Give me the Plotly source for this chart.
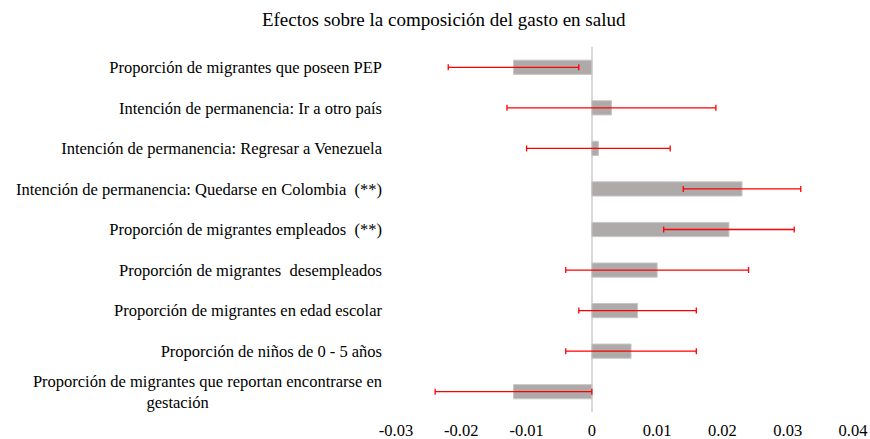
import plotly.graph_objects as go

categories = [
    "Proporción de migrantes que poseen PEP",
    "Intención de permanencia: Ir a otro país",
    "Intención de permanencia: Regresar a Venezuela",
    "Intención de permanencia: Quedarse en Colombia  (**)",
    "Proporción de migrantes empleados  (**)",
    "Proporción de migrantes  desempleados",
    "Proporción de migrantes en edad escolar",
    "Proporción de niños de 0 - 5 años",
    "Proporción de migrantes que reportan encontrarse en<br>gestación",
]
effects = [-0.012, 0.003, 0.001, 0.023, 0.021, 0.010, 0.007, 0.006, -0.012]
ci_half = [0.010, 0.016, 0.011, 0.009, 0.010, 0.014, 0.009, 0.010, 0.012]

x_tick_vals = [-0.03, -0.02, -0.01, 0, 0.01, 0.02, 0.03, 0.04]
x_tick_text = ["-0.03", "-0.02", "-0.01", "0", "0.01", "0.02", "0.03", "0.04"]

# center the second line of the wrapped label by padding it
y_tick_text = categories[:-1] + [categories[-1] + "&nbsp;" * 42]

FONT = "Liberation Serif, Times New Roman, serif"

fig = go.Figure()
fig.add_trace(
    go.Bar(
        x=effects,
        y=categories,
        orientation="h",
        width=0.35,
        marker=dict(color="#AEAAAA", line=dict(color="#C8C5C5", width=1)),
        error_x=dict(type="data", array=ci_half, color="#FF0000", thickness=1.3, width=3),
        showlegend=False,
    )
)

fig.update_layout(
    width=870,
    height=439,
    paper_bgcolor="white",
    plot_bgcolor="white",
    margin=dict(l=396, r=17, t=47, b=27),
    font=dict(family=FONT, size=16.5, color="#000000"),
    title=dict(
        text="Efectos sobre la composición del gasto en salud",
        x=0.51,
        xanchor="center",
        y=0.955,
        yanchor="middle",
        font=dict(family=FONT, size=19, color="#000000"),
    ),
)
fig.update_xaxes(
    range=[-0.03, 0.04],
    tickvals=x_tick_vals,
    ticktext=x_tick_text,
    showgrid=False,
    showline=False,
    zeroline=True,
    zerolinecolor="#D9D9D9",
    zerolinewidth=2,
    ticks="",
    ticklabelstandoff=6,
    automargin=False,
)
fig.update_yaxes(
    autorange="reversed",
    tickvals=categories,
    ticktext=y_tick_text,
    showgrid=False,
    showline=False,
    ticks="",
    ticklabelstandoff=13,
    automargin=False,
)

# page body has a default margin; drop it so the figure fills the window
fig.write_html(
    "out.html",
    config={"displayModeBar": False},
    post_script="document.body.style.margin='0';",
)
